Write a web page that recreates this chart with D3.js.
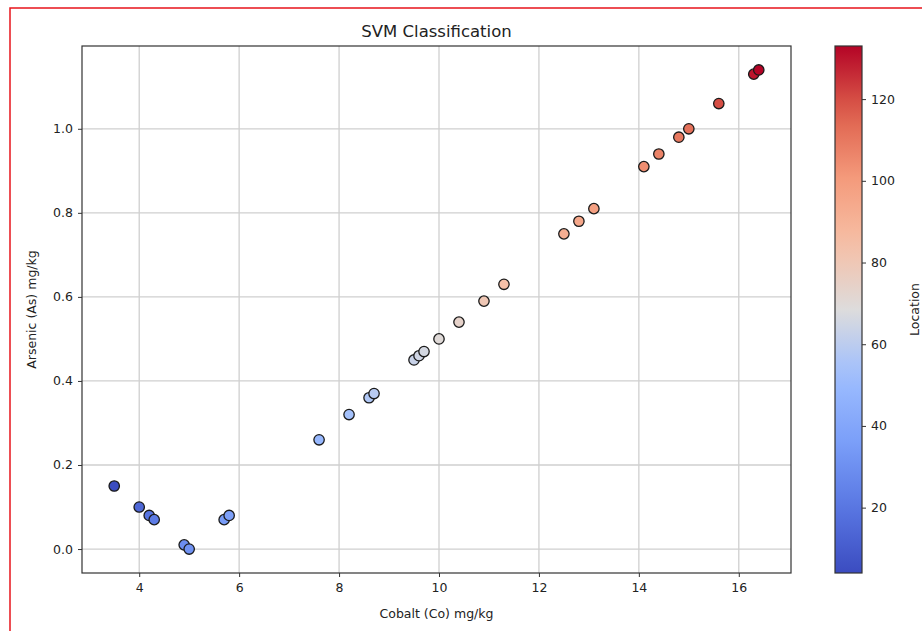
<!DOCTYPE html>
<html>
<head>
<meta charset="utf-8">
<script src="https://cdn.jsdelivr.net/npm/d3@7"></script>
<style>
  body { margin: 0; background: #fff; }
  text { font-family: "DejaVu Sans", sans-serif; fill: #222; }
</style>
</head>
<body>
<div id="chart"></div>
<script>
// Data
var cobalt   = [3.5, 4.0, 4.2, 4.3, 4.9, 5.0, 5.7, 5.8, 7.6, 8.2, 8.6, 8.7, 9.5, 9.6, 9.7, 10.0,
                10.4, 10.9, 11.3, 12.5, 12.8, 13.1, 14.1, 14.4, 14.8, 15.0, 15.6, 16.3, 16.4];
var arsenic  = [0.15, 0.10, 0.08, 0.07, 0.01, 0.00, 0.07, 0.08, 0.26, 0.32, 0.36, 0.37, 0.45, 0.46, 0.47, 0.50,
                0.54, 0.59, 0.63, 0.75, 0.78, 0.81, 0.91, 0.94, 0.98, 1.00, 1.06, 1.13, 1.14];
var siteLoc  = [4, 14, 19, 22, 29, 31, 35, 37, 49, 54, 57, 59, 63, 65, 66, 70,
                74, 80, 84, 92, 95, 98, 104, 107, 110, 112, 120, 130, 133];
var xTicks = [4, 6, 8, 10, 12, 14, 16];
var yTicks = [0.0, 0.2, 0.4, 0.6, 0.8, 1.0];
var cTicks = [20, 40, 60, 80, 100, 120];

var W = 922, H = 631;
var plot = {left: 82, right: 791, top: 46, bottom: 573};

var svg = d3.select("#chart").append("svg")
  .attr("width", W).attr("height", H);

// red frame around the screenshot
svg.append("path")
  .attr("d", "M10,640 L10,8 L930,8")
  .attr("fill", "none").attr("stroke", "#e8141b").attr("stroke-width", 1.5);

var data = cobalt.map(function (c, i) { return {x: c, y: arsenic[i], loc: siteLoc[i]}; });

// matplotlib-style 5% margins
var xr = d3.extent(cobalt), yr = d3.extent(arsenic);
var xPad = (xr[1] - xr[0]) * 0.05, yPad = (yr[1] - yr[0]) * 0.05;

var x = d3.scaleLinear().domain([xr[0] - xPad, xr[1] + xPad]).range([plot.left, plot.right]);
var y = d3.scaleLinear().domain([yr[0] - yPad, yr[1] + yPad]).range([plot.bottom, plot.top]);
var cExt = d3.extent(siteLoc);

// coolwarm approximation
var coolwarm = d3.scaleLinear()
  .domain([0, 0.125, 0.25, 0.375, 0.5, 0.625, 0.75, 0.875, 1])
  .range(["#3b4cc0", "#5977e3", "#7b9ff9", "#9ebeff", "#dddcdc", "#f6bfa6", "#f49a7b", "#dd5f4b", "#b40426"])
  .interpolate(d3.interpolateRgb);
var color = function (v) { return coolwarm((v - cExt[0]) / (cExt[1] - cExt[0])); };

// grid
svg.append("g").selectAll("line").data(xTicks).enter().append("line")
  .attr("x1", function (d) { return x(d); }).attr("x2", function (d) { return x(d); })
  .attr("y1", plot.top).attr("y2", plot.bottom)
  .attr("stroke", "#cfcfcf").attr("stroke-width", 1.3);
svg.append("g").selectAll("line").data(yTicks).enter().append("line")
  .attr("y1", function (d) { return y(d); }).attr("y2", function (d) { return y(d); })
  .attr("x1", plot.left).attr("x2", plot.right)
  .attr("stroke", "#cfcfcf").attr("stroke-width", 1.3);

// points
svg.append("g").selectAll("circle").data(data).enter().append("circle")
  .attr("cx", function (d) { return x(d.x); })
  .attr("cy", function (d) { return y(d.y); })
  .attr("r", 5.2)
  .attr("fill", function (d) { return color(d.loc); })
  .attr("stroke", "#1a1a1a").attr("stroke-width", 1.3);

// axes
var xAxis = svg.append("g")
  .attr("transform", "translate(0," + plot.bottom + ")")
  .call(d3.axisBottom(x).tickValues(xTicks).tickFormat(d3.format("d")).tickSize(4).tickPadding(6));
var yAxis = svg.append("g")
  .attr("transform", "translate(" + plot.left + ",0)")
  .call(d3.axisLeft(y).tickValues(yTicks).tickFormat(d3.format(".1f")).tickSize(4).tickPadding(5));
[xAxis, yAxis].forEach(function (a) {
  a.select(".domain").remove();
  a.selectAll("line").attr("stroke", "#333");
  a.selectAll("text").style("font-size", "12.5px").style("font-family", "DejaVu Sans").attr("fill", "#222");
});

svg.append("rect")
  .attr("x", plot.left).attr("y", plot.top)
  .attr("width", plot.right - plot.left).attr("height", plot.bottom - plot.top)
  .attr("fill", "none").attr("stroke", "#333").attr("stroke-width", 1.2);

// title and labels
svg.append("text").attr("x", (plot.left + plot.right) / 2).attr("y", 37)
  .attr("text-anchor", "middle").style("font-size", "16.5px").text("SVM Classification");
svg.append("text").attr("x", (plot.left + plot.right) / 2).attr("y", 618)
  .attr("text-anchor", "middle").style("font-size", "12.5px").text("Cobalt (Co) mg/kg");
svg.append("text")
  .attr("transform", "translate(36," + ((plot.top + plot.bottom) / 2) + ") rotate(-90)")
  .attr("text-anchor", "middle").style("font-size", "12.5px").text("Arsenic (As) mg/kg");

// colorbar
var cb = {left: 835, right: 862};
var cScale = d3.scaleLinear().domain(cExt).range([plot.bottom, plot.top]);
var defs = svg.append("defs");
var grad = defs.append("linearGradient").attr("id", "cw")
  .attr("x1", 0).attr("y1", 1).attr("x2", 0).attr("y2", 0);
d3.range(0, 1.0001, 0.05).forEach(function (t) {
  grad.append("stop").attr("offset", t).attr("stop-color", coolwarm(t));
});
svg.append("rect")
  .attr("x", cb.left).attr("y", plot.top)
  .attr("width", cb.right - cb.left).attr("height", plot.bottom - plot.top)
  .attr("fill", "url(#cw)").attr("stroke", "#333").attr("stroke-width", 1.2);
var cAxis = svg.append("g")
  .attr("transform", "translate(" + cb.right + ",0)")
  .call(d3.axisRight(cScale).tickValues(cTicks).tickSize(4).tickPadding(5));
cAxis.select(".domain").remove();
cAxis.selectAll("line").attr("stroke", "#333");
cAxis.selectAll("text").style("font-size", "12.5px").style("font-family", "DejaVu Sans").attr("fill", "#222");
svg.append("text")
  .attr("transform", "translate(919," + ((plot.top + plot.bottom) / 2) + ") rotate(-90)")
  .attr("text-anchor", "middle").style("font-size", "12.5px").text("Location");
</script>
</body>
</html>
